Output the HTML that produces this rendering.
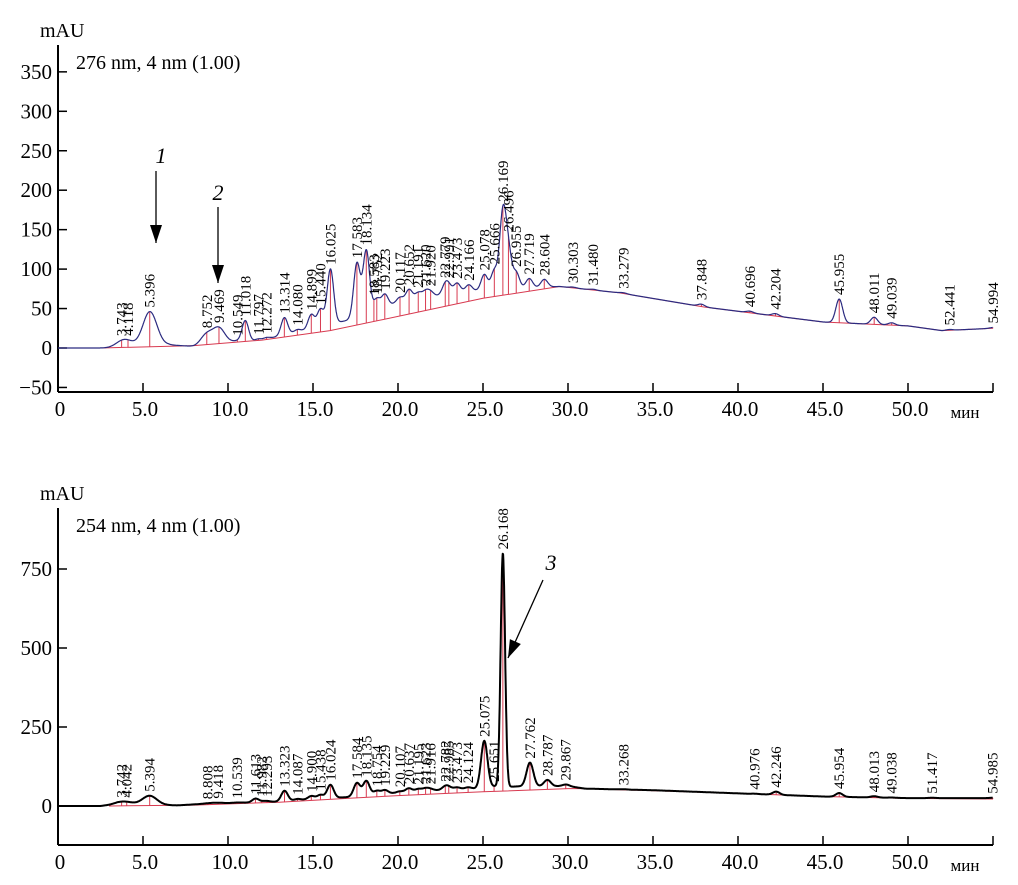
<!DOCTYPE html>
<html><head><meta charset="utf-8">
<style>
body{margin:0;background:#fff;}
svg{display:block;font-family:"Liberation Serif",serif;}
</style></head>
<body>
<svg id="chart" width="1018" height="885" viewBox="0 0 1018 885"></svg>
<script>
// ---- data: top chart (276 nm) ----
const topTimes=[3.743,4.118,5.396,8.752,9.469,10.549,11.018,11.797,12.272,13.314,14.080,14.899,15.440,16.025,17.583,18.134,18.583,18.752,19.223,20.117,20.652,21.191,21.620,21.920,22.779,22.991,23.473,24.166,25.078,25.666,26.169,26.496,26.955,27.719,28.604,30.303,31.480,33.279,37.848,40.696,42.204,45.955,48.011,49.039,52.441,54.994];
const topHeights=[6,6,45,14,20,2,26,2,2,22,3,18,22,70,68,80,0,14,16,6,14,8,8,6,12,8,12,8,20,24,95,45,20,12,10,1,1,1,3,2,3,30,9,3,1,1];
const topBgT=[0,2.5,5,6.5,8,12,17,20,24,29.5,33,38,45,50,52,55];
const topBgV=[0,0,0,4,2,10,35,58,72,78,70,52,33,28,22,25];
const topBaseT=[2.5,8,12,16,20,25,29.5,33,38,45,50,52,55];
const topBaseV=[0,3,10,22,40,63,78,70,52,33,28,22,25];
// ---- data: bottom chart (254 nm) ----
const botTimes=[3.742,4.042,5.394,8.808,9.418,10.539,11.613,11.982,12.293,13.323,14.087,14.900,15.438,16.024,17.584,18.135,18.754,19.229,20.107,20.637,21.195,21.623,21.916,22.782,22.985,23.473,24.124,25.075,25.651,26.168,27.762,28.787,29.867,33.268,40.976,42.246,45.954,48.013,49.038,51.417,54.985];
const botHeights=[5,4,28,2,3,2,12,2,3,33,4,10,12,42,42,46,12,12,4,12,8,8,5,10,6,6,5,150,4,740,75,20,5,1,1,10,12,4,1,1,1];
const botBgT=[0,2.5,3.5,5,7,8,10,13,15,17,20,23,25,27,30,31,35,45,50,55];
const botBgV=[0,0,6,5,2,5,8,14,22,28,42,52,56,62,63,55,50,30,25,25];
const botBaseT=[3,8,13,17,20,25,30,31,40,45,50,55];
const botBaseV=[0,3,12,24,33,45,55,55,40,30,24,22];
const xTicks=[0,5,10,15,20,25,30,35,40,45,50];
const xTickLabels=["0","5.0","10.0","15.0","20.0","25.0","30.0","35.0","40.0","45.0","50.0"];
const topYTicks=[-50,0,50,100,150,200,250,300,350];
const botYTicks=[0,250,500,750];

const NS="http://www.w3.org/2000/svg";
const svg=document.getElementById('chart');
function el(tag,attrs,parent){const e=document.createElementNS(NS,tag);for(const k in attrs)e.setAttribute(k,attrs[k]);(parent||svg).appendChild(e);return e;}
function interp(T,V,t){if(t<=T[0])return V[0];for(let i=1;i<T.length;i++){if(t<=T[i]){const f=(t-T[i-1])/(T[i]-T[i-1]);return V[i-1]+f*(V[i]-V[i-1]);}}return V[V.length-1];}
function sigmaFor(t){return t<6?0.42:t<11?0.35:t<27?0.19:0.2;}

function drawChart(cfg){
  const X=t=>58+t*(993-58)/55;
  const Y=v=>cfg.y0-v*cfg.k;
  const g=el('g',{});
  
  
  const ax=el('line',{x1:58,y1:cfg.yTop,x2:58,y2:cfg.axisY,stroke:'#000','stroke-width':2},g);
  
  const bx=el('line',{x1:58,y1:cfg.axisY,x2:993,y2:cfg.axisY,stroke:'#000','stroke-width':2},g);
  
  cfg.yTicks.forEach(v=>{
    el('line',{x1:58,y1:Y(v),x2:67,y2:Y(v),stroke:'#000','stroke-width':1.5},g);
    const tx=el('text',{x:52,y:Y(v)+7,'text-anchor':'end','font-size':21},g);
    tx.textContent=v<0?'\u2212'+(-v):String(v);
    
  });
  xTicks.forEach((t,i)=>{
    el('line',{x1:X(t),y1:cfg.axisY,x2:X(t),y2:cfg.axisY-9,stroke:'#000','stroke-width':1.5},g);
    const tx=el('text',{x:X(t)+2,y:cfg.axisY+24,'text-anchor':'middle','font-size':21},g);
    tx.textContent=xTickLabels[i];
    
  });
  el('line',{x1:X(55),y1:cfg.axisY,x2:X(55),y2:cfg.axisY-9,stroke:'#000','stroke-width':1.5},g);
  const mn=el('text',{x:965,y:cfg.axisY+26,'text-anchor':'middle','font-size':17},g);
  mn.textContent='мин';
  const mau=el('text',{x:40,y:cfg.yTop-8,'font-size':20},g);
  mau.textContent='mAU';
  const ttl=el('text',{x:76,y:cfg.yTop+24,'font-size':20},g);
  ttl.textContent=cfg.title;
  const sig=t=>{let v=interp(cfg.bgT,cfg.bgV,t);cfg.times.forEach((p,i)=>{const s=(cfg.heights[i]>300)?0.13:sigmaFor(p);v+=cfg.heights[i]*Math.exp(-(t-p)*(t-p)/(2*s*s));});return v;};
  let bp='';cfg.baseT.forEach((t,i)=>{bp+=(i?'L':'M')+X(t).toFixed(1)+','+Y(cfg.baseV[i]).toFixed(1);});
  const base=el('path',{d:bp,fill:'none',stroke:'#d83a50','stroke-width':1},g);
  
  cfg.times.forEach(p=>{
    const d=el('line',{x1:X(p),y1:Y(interp(cfg.baseT,cfg.baseV,p)),x2:X(p),y2:Y(sig(p)),stroke:'#d83a50','stroke-width':1},g);
    
  });
  let d='';for(let t=0;t<=55;t+=0.02){d+=(t?'L':'M')+X(t).toFixed(1)+','+Y(sig(t)).toFixed(1);}
  const line=el('path',{d:d,fill:'none',stroke:cfg.color,'stroke-width':cfg.lw,'stroke-linejoin':'round'},g);
  
  cfg.times.forEach(p=>{
    const yy=Y(sig(p))-4;
    const tx=el('text',{x:0,y:0,'font-size':15,transform:`translate(${X(p)+5},${yy}) rotate(-90)`},g);
    tx.textContent=p.toFixed(3);
    
  });
  return g;
}
drawChart({name:'chart-276nm',title:'276 nm, 4 nm (1.00)',y0:348,k:0.789,yTop:45,axisY:392,yTicks:topYTicks,times:topTimes,heights:topHeights,bgT:topBgT,bgV:topBgV,baseT:topBaseT,baseV:topBaseV,color:'#2b2b80',lw:1.2});
drawChart({name:'chart-254nm',title:'254 nm, 4 nm (1.00)',y0:806,k:0.316,yTop:508,axisY:845,yTicks:botYTicks,times:botTimes,heights:botHeights,bgT:botBgT,bgV:botBgV,baseT:botBaseT,baseV:botBaseV,color:'#000',lw:2});
function arrow(x1,y1,x2,y2,name){
  const g=el('g',{});
  el('line',{x1:x1,y1:y1,x2:x2,y2:y2,stroke:'#000','stroke-width':1.3},g);
  const a=Math.atan2(y2-y1,x2-x1),L=18,W=6;
  const bx=x2-L*Math.cos(a),by=y2-L*Math.sin(a);
  el('polygon',{points:`${x2},${y2} ${bx+W*Math.sin(a)},${by-W*Math.cos(a)} ${bx-W*Math.sin(a)},${by+W*Math.cos(a)}`,fill:'#000'},g);
}
arrow(156,171,156,243,'arrow-1');arrow(218,207,218,283,'arrow-2');arrow(543,580,508,658,'arrow-3');
[['1',161,163],['2',218,200],['3',551,570]].forEach(([s,x,y])=>{
  const t=el('text',{x:x,y:y,'font-size':22,'font-style':'italic','text-anchor':'middle'});
  t.textContent=s;
  
  
});
</script>
</body></html>
